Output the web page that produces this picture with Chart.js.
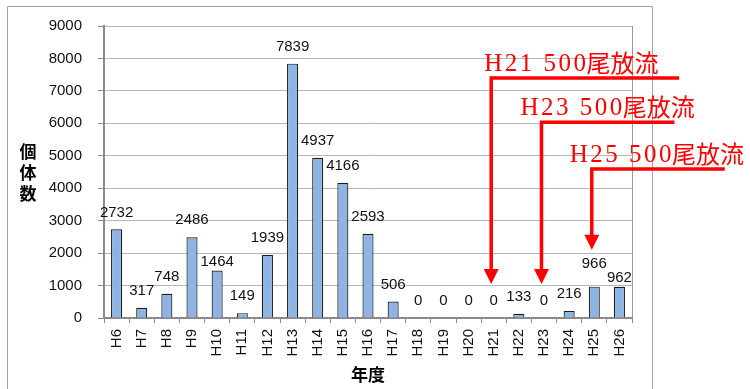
<!DOCTYPE html>
<html>
<head>
<meta charset="utf-8">
<script src="https://cdn.jsdelivr.net/npm/chart.js@4.4.0/dist/chart.umd.min.js"></script>
<style>
html,body{margin:0;padding:0;background:#fff;}
#wrap{width:750px;height:389px;position:relative;}
</style>
</head>
<body>
<div id="wrap"><canvas id="c" width="750" height="389"></canvas></div>
<script>
// ---- data ----
const categories = ['H6','H7','H8','H9','H10','H11','H12','H13','H14','H15','H16','H17','H18','H19','H20','H21','H22','H23','H24','H25','H26'];
const counts = [2732,317,748,2486,1464,149,1939,7839,4937,4166,2593,506,0,0,0,0,133,0,216,966,962];
const yTicks = [0,1000,2000,3000,4000,5000,6000,7000,8000,9000];
const yTitle = '個体数';
const xTitle = '年度';
const releaseYears = ['H21','H23','H25'];
const releaseLatin = ['H21 500','H23 500','H25 500'];
const releaseKanji = '尾放流';

// ---- styles / layout (not data) ----
const labelOffsets = {4: 9, 19: 23, 20: 9};        // data label lift in px
const annoLayout = [
  {lineVal: 7400, tipVal: 1050, lineLen: 188, textDx: -7},
  {lineVal: 6030, tipVal: 1050, lineLen: 133, textDx: -21},
  {lineVal: 4590, tipVal: 2100, lineLen: 133, textDx: -22}
];

const framePlugin = {
  id: 'frame',
  beforeDraw(chart) {
    const ctx = chart.ctx;
    ctx.save();
    ctx.fillStyle = '#fff';
    ctx.fillRect(0, 0, chart.width, chart.height);
    ctx.strokeStyle = '#a3a3a3';
    ctx.lineWidth = 1;
    ctx.beginPath();
    ctx.moveTo(7.5, 400);
    ctx.lineTo(7.5, 6.5);
    ctx.lineTo(652.5, 6.5);
    ctx.lineTo(652.5, 400);
    ctx.stroke();
    ctx.restore();
  },
  afterDraw(chart) {
    const ctx = chart.ctx;
    const a = chart.chartArea;
    ctx.save();
    // right border of plot area
    ctx.strokeStyle = '#9a9a9a';
    ctx.lineWidth = 1;
    ctx.beginPath();
    ctx.moveTo(Math.round(a.right) + 0.5, a.top);
    ctx.lineTo(Math.round(a.right) + 0.5, a.bottom);
    ctx.stroke();
    // axis titles
    ctx.fillStyle = '#000';
    ctx.font = 'bold 17px "Noto Sans CJK JP"';
    ctx.textAlign = 'center';
    ctx.textBaseline = 'middle';
    const chars = Array.from(yTitle);
    chars.forEach((ch, i) => ctx.fillText(ch, 28, 152 + i * 21));
    ctx.fillText(xTitle, (a.left + a.right) / 2, 375);
    // data labels
    ctx.font = '15px "Liberation Sans", Arial, sans-serif';
    ctx.fillStyle = '#111';
    const meta = chart.getDatasetMeta(0);
    meta.data.forEach((bar, i) => {
      const off = labelOffsets[i] !== undefined ? labelOffsets[i] : 17;
      ctx.fillText(String(counts[i]), bar.x, bar.y - off);
    });
    // release annotations
    const xs = chart.scales.x, ys = chart.scales.y;
    ctx.strokeStyle = '#ff0000';
    ctx.fillStyle = '#ff0000';
    releaseYears.forEach((yr, k) => {
      const L = annoLayout[k];
      const x = xs.getPixelForValue(categories.indexOf(yr)) - 2.5;
      const ly = ys.getPixelForValue(L.lineVal);
      const ty = ys.getPixelForValue(L.tipVal);
      ctx.lineWidth = 3.5;
      ctx.beginPath();
      ctx.moveTo(x + L.lineLen, ly);
      ctx.lineTo(x, ly);
      ctx.lineTo(x, ty - 14);
      ctx.stroke();
      ctx.beginPath();
      ctx.moveTo(x - 7.5, ty - 15);
      ctx.lineTo(x + 7.5, ty - 15);
      ctx.lineTo(x, ty);
      ctx.closePath();
      ctx.fill();
      // text
      ctx.textAlign = 'left';
      ctx.textBaseline = 'alphabetic';
      ctx.font = '25px "Liberation Serif", serif';
      ctx.letterSpacing = '2.5px';
      const tx = x + L.textDx;
      const by = ly - 7;
      ctx.fillText(releaseLatin[k], tx, by);
      const w = ctx.measureText(releaseLatin[k]).width;
      ctx.letterSpacing = '0px';
      ctx.font = '24px "Noto Sans CJK JP"';
      ctx.fillText(releaseKanji, tx + w - 2, by + 1);
    });
    ctx.restore();
  }
};

new Chart(document.getElementById('c'), {
  type: 'bar',
  data: {
    labels: categories,
    datasets: [{
      data: counts,
      backgroundColor: '#8db4e2',
      borderColor: '#1c1c1c',
      borderWidth: 1.2,
      borderSkipped: 'bottom',
      categoryPercentage: 1,
      barPercentage: 0.44
    }]
  },
  options: {
    responsive: false,
    animation: false,
    devicePixelRatio: 1,
    layout: {padding: {top: 26, right: 118, bottom: 0, left: 0}},
    plugins: {legend: {display: false}, tooltip: {enabled: false}, title: {display: false}},
    scales: {
      x: {
        afterFit(s) { s.height = 71; },
        grid: {display: true, drawOnChartArea: false, drawTicks: true, tickLength: 5, tickColor: '#8a8a8a', offset: true},
        border: {display: true, color: '#8a8a8a', width: 2},
        ticks: {
          color: '#111', minRotation: 90, maxRotation: 90, padding: 6, autoSkip: false,
          font: {family: '"Liberation Sans", Arial, sans-serif', size: 15}
        }
      },
      y: {
        min: 0, max: 9000,
        afterFit(s) { s.width = 104; },
        afterBuildTicks(s) { s.ticks = yTicks.map(v => ({value: v})); },
        grid: {color: '#b5b5b5', lineWidth: 1, tickLength: 6, tickColor: '#8a8a8a'},
        border: {display: true, color: '#8a8a8a', width: 2},
        ticks: {
          color: '#111', padding: 16,
          callback: v => String(v),
          font: {family: '"Liberation Sans", Arial, sans-serif', size: 15}
        }
      }
    }
  },
  plugins: [framePlugin]
});
</script>
</body>
</html>
